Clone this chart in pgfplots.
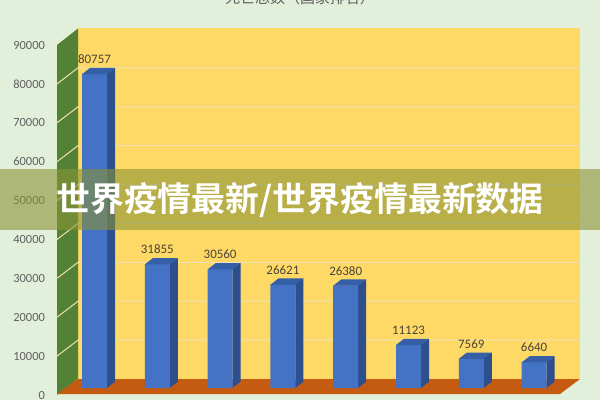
\documentclass[border=0pt]{standalone}
\usepackage{fontspec}
\setmainfont{Carlito}
\newfontfamily\cjk{Noto Sans CJK SC}[BoldFont={* Bold}]
\usepackage{pgfplots}
\pgfplotsset{compat=1.18}
\usepackage{pgfplotstable}

\definecolor{bgc}{HTML}{E2EFDA}
\definecolor{wallback}{HTML}{FFD966}
\definecolor{wallleft}{HTML}{548235}
\definecolor{floorc}{HTML}{C55A11}
\definecolor{gridc}{HTML}{EFE0B4}
\definecolor{barfront}{HTML}{4472C4}
\definecolor{barside}{HTML}{2E4F8E}
\definecolor{bartop}{HTML}{3560A8}
\definecolor{tickgray}{HTML}{606060}
\definecolor{lblgray}{HTML}{4A4438}
\definecolor{bandc}{RGB}{137,147,55}

% deaths per country
\pgfplotstableread{
idx deaths
1 80757
2 31855
3 30560
4 26621
5 26380
6 11123
7 7569
8 6640
}\deaths

% cap of each bar: top face plus the top corner of the side face
\pgfdeclareplotmark{barcap}{%
  \pgfpathmoveto{\pgfpoint{-12.5bp}{-0.3bp}}%
  \pgfpathlineto{\pgfpoint{12.5bp}{-0.3bp}}%
  \pgfpathlineto{\pgfpoint{20.5bp}{6bp}}%
  \pgfpathlineto{\pgfpoint{-4.5bp}{6bp}}%
  \pgfpathclose
  \pgfsetfillcolor{bartop}\pgfusepath{fill}%
  \pgfpathmoveto{\pgfpoint{12.5bp}{0bp}}%
  \pgfpathlineto{\pgfpoint{20.5bp}{6bp}}%
  \pgfpathlineto{\pgfpoint{20.5bp}{-0.5bp}}%
  \pgfpathlineto{\pgfpoint{12.5bp}{-0.5bp}}%
  \pgfpathclose
  \pgfsetfillcolor{barside}\pgfusepath{fill}%
}
% foot of each bar: hides the part of the side face below the floor line
\pgfdeclareplotmark{barfoot}{%
  \pgfpathmoveto{\pgfpoint{12.5bp}{0bp}}%
  \pgfpathlineto{\pgfpoint{21bp}{6.4bp}}%
  \pgfpathlineto{\pgfpoint{21bp}{-0.5bp}}%
  \pgfpathlineto{\pgfpoint{12.5bp}{-0.5bp}}%
  \pgfpathclose
  \pgfsetfillcolor{floorc}\pgfusepath{fill}%
}

\begin{document}
\begin{tikzpicture}[x=1bp,y=1bp]
\path[use as bounding box] (0,0) rectangle (600,400);
\fill[bgc] (0,0) rectangle (600,400);

% title, mostly cut off by the top edge (as in the reference)
\node[anchor=base, font=\cjk\fontsize{15}{15}\selectfont, text=tickgray] at (300,396.5) {死亡总数（国家排名）};

% room: back wall, left wall, floor
\fill[wallback] (78,21) rectangle (580,371.5);
\fill[wallleft] (57,5) -- (78,21) -- (78,371.5) -- (57,355) -- cycle;
\fill[floorc] (57,6) -- (78,21) -- (580,21) -- (560,6) -- cycle;
\foreach \k in {1,...,8} {
  \draw[gridc, line width=1bp] (57,5+38.889*\k) -- (78,21+38.889*\k) -- (580,21+38.889*\k);
}

\begin{axis}[
  at={(63.1bp,12bp)}, anchor=south west,
  scale only axis, width=502.4bp, height=350bp,
  xmin=0.5, xmax=8.5, ymin=0, ymax=90000,
  xtick=\empty,
  ytick={0,10000,...,90000},
  scaled y ticks=false,
  axis line style={draw=none},
  major tick length=0pt,
  clip=false,
  yticklabel style={font=\fontsize{12.5}{13}\selectfont, text=tickgray,
    anchor=east, inner sep=0pt, xshift=-18bp, yshift=-7bp},
  /pgf/number format/1000 sep={},
  /pgf/number format/assume math mode=true,
]
\addplot[ybar, bar width=8bp, bar shift=16.5bp, fill=barside, draw=none] table[x=idx, y=deaths] {\deaths};
\addplot[ybar, bar width=25bp, bar shift=0bp, fill=barfront, draw=none] table[x=idx, y=deaths] {\deaths};
\addplot[only marks, mark=barfoot] coordinates {(1,0) (2,0) (3,0) (4,0) (5,0) (6,0) (7,0) (8,0)};
\addplot[only marks, mark=barcap, nodes near coords,
  every node near coord/.append style={font=\fontsize{13}{14}\selectfont,
    text=lblgray, anchor=south, inner sep=0pt, yshift=10bp}]
  table[x=idx, y=deaths] {\deaths};
\end{axis}

% banner laid over the chart
\fill[bandc, opacity=0.6] (0,170) rectangle (600,231);
\node[font=\cjk\bfseries\fontsize{34}{34}\selectfont, text=white] at (300,200) {世界疫情最新/世界疫情最新数据};
\end{tikzpicture}
\end{document}
